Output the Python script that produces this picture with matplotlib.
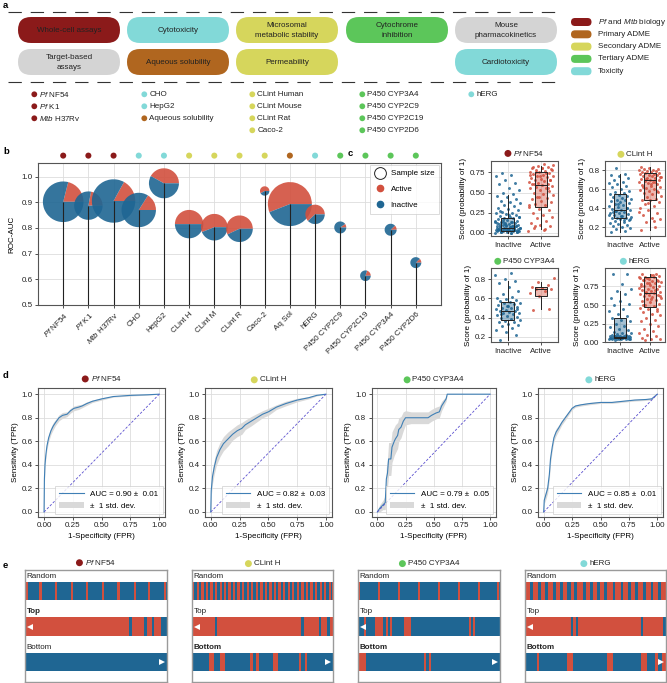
import numpy as np
import matplotlib
matplotlib.use('Agg')
import matplotlib.pyplot as plt
from matplotlib.patches import FancyBboxPatch, Wedge, Circle, Patch
from matplotlib.lines import Line2D
from matplotlib.transforms import ScaledTranslation
from matplotlib.offsetbox import AnchoredOffsetbox, HPacker, TextArea, DrawingArea
from matplotlib.colors import to_rgba

FS = 5.8
plt.rcParams.update({
    'font.family': ['Liberation Sans', 'DejaVu Sans'],
    'font.size': FS,
    'mathtext.fontset': 'custom',
    'mathtext.rm': 'Liberation Sans',
    'mathtext.it': 'Liberation Sans:italic',
    'mathtext.bf': 'Liberation Sans:bold',
    'axes.linewidth': 0.8,
    'axes.edgecolor': '#555555',
    'xtick.labelsize': FS, 'ytick.labelsize': FS,
    'xtick.major.size': 2, 'ytick.major.size': 2,
    'xtick.major.width': 0.6, 'ytick.major.width': 0.6,
    'xtick.major.pad': 2, 'ytick.major.pad': 2,
    'axes.labelsize': FS,
})

# ---------------- colours ----------------
C_BIO = '#8b1a1a'; C_PRI = '#b0661f'; C_SEC = '#d6d65c'
C_TER = '#5cc65a'; C_TOX = '#82d9d8'; C_GRAY = '#d4d4d4'
RED = '#d2503e'; BLUE = '#1f6693'; ROC_BLUE = '#3f7fb5'

# ---------------- panel a data ----------------
pill_row1 = ["Whole-cell assays", "Cytotoxicity", "Microsomal\nmetabolic stability",
             "Cytochrome\ninhibition", "Mouse\npharmacokinetics"]
pill_row1_col = [C_BIO, C_TOX, C_SEC, C_TER, C_GRAY]
pill_row2 = ["Target-based\nassays", "Aqueous solubility", "Permeability", None, "Cardiotoxicity"]
pill_row2_col = [C_GRAY, C_PRI, C_SEC, None, C_TOX]
group_labels = [r"$\it{Pf}$ and $\it{Mtb}$ biology", "Primary ADME", "Secondary ADME",
                "Tertiary ADME", "Toxicity"]
group_colors = [C_BIO, C_PRI, C_SEC, C_TER, C_TOX]
endpoint_cols = [
    [(r"$\it{Pf}$ NF54", C_BIO), (r"$\it{Pf}$ K1", C_BIO), (r"$\it{Mtb}$ H37Rv", C_BIO)],
    [("CHO", C_TOX), ("HepG2", C_TOX), ("Aqueous solubility", C_PRI)],
    [("CLint Human", C_SEC), ("CLint Mouse", C_SEC), ("CLint Rat", C_SEC), ("Caco-2", C_SEC)],
    [("P450 CYP3A4", C_TER), ("P450 CYP2C9", C_TER), ("P450 CYP2C19", C_TER), ("P450 CYP2D6", C_TER)],
    [("hERG", C_TOX)],
]

# ---------------- panel b data ----------------
b_labels = [r"$\it{Pf}$ NF54", r"$\it{Pf}$ K1", r"$\it{Mtb}$ H37Rv", "CHO", "HepG2", "CLint H",
            "CLint M", "CLint R", "Caco-2", "Aq Sol", "hERG", "P450 CYP2C9",
            "P450 CYP2C19", "P450 CYP3A4", "P450 CYP2D6"]
b_colors = [C_BIO, C_BIO, C_BIO, C_TOX, C_TOX, C_SEC, C_SEC, C_SEC, C_SEC, C_PRI, C_TOX,
            C_TER, C_TER, C_TER, C_TER]
b_auc = [0.902, 0.887, 0.905, 0.870, 0.974, 0.815, 0.803, 0.797, 0.944, 0.893, 0.853,
         0.802, 0.614, 0.793, 0.665]
b_size = [4120, 2016, 4709, 2958, 2250, 2016, 1769, 1769, 221, 4840, 941, 360, 281, 360, 302]
b_active_frac = [0.21, 0.22, 0.17, 0.16, 0.42, 0.50, 0.56, 0.57, 0.58, 0.56, 0.62,
                 0.10, 0.20, 0.12, 0.12]

# ---------------- panel c data ----------------
c_titles = [r"$\it{Pf}$ NF54", "CLint H", "P450 CYP3A4", "hERG"]
c_title_colors = [C_BIO, C_SEC, C_TER, C_TOX]
nf54_inactive = [0.00, 0.00, 0.01, 0.01, 0.01, 0.02, 0.02, 0.02, 0.02, 0.03, 0.03, 0.03, 0.03,
                 0.04, 0.04, 0.04, 0.05, 0.05, 0.05, 0.06, 0.06, 0.06, 0.07, 0.07, 0.08, 0.08,
                 0.09, 0.09, 0.10, 0.10, 0.11, 0.11, 0.12, 0.12, 0.13, 0.14, 0.14, 0.15, 0.16,
                 0.17, 0.18, 0.18, 0.19, 0.20, 0.21, 0.22, 0.23, 0.24, 0.25, 0.26, 0.28, 0.30,
                 0.31, 0.33, 0.35, 0.37, 0.38, 0.40, 0.42, 0.44, 0.46, 0.48, 0.50, 0.53, 0.56,
                 0.60, 0.62, 0.66, 0.70, 0.72, 0.74, 0.01, 0.02, 0.03, 0.04, 0.05, 0.06, 0.07,
                 0.08, 0.09, 0.10, 0.12, 0.14, 0.16, 0.02, 0.03, 0.05, 0.07, 0.11, 0.15, 0.00,
                 0.01, 0.02, 0.04, 0.06, 0.08, 0.13, 0.19, 0.22, 0.27]
nf54_active = [0.02, 0.04, 0.06, 0.08, 0.10, 0.12, 0.15, 0.18, 0.20, 0.22, 0.25, 0.28, 0.30,
               0.32, 0.34, 0.36, 0.38, 0.40, 0.42, 0.43, 0.45, 0.47, 0.48, 0.50, 0.52, 0.53,
               0.55, 0.56, 0.57, 0.58, 0.59, 0.60, 0.61, 0.62, 0.63, 0.64, 0.65, 0.66, 0.67,
               0.68, 0.69, 0.70, 0.71, 0.72, 0.73, 0.74, 0.75, 0.76, 0.77, 0.78, 0.79, 0.80,
               0.81, 0.82, 0.83, 0.84, 0.85, 0.60, 0.65, 0.70, 0.72, 0.74, 0.76, 0.78, 0.80,
               0.82, 0.55, 0.45, 0.35, 0.05, 0.09]
clint_inactive = [0.15, 0.16, 0.18, 0.19, 0.20, 0.21, 0.22, 0.23, 0.24, 0.25, 0.26, 0.27, 0.28,
                  0.29, 0.30, 0.30, 0.31, 0.32, 0.33, 0.34, 0.35, 0.35, 0.36, 0.37, 0.38, 0.38,
                  0.39, 0.40, 0.41, 0.42, 0.43, 0.44, 0.45, 0.46, 0.47, 0.48, 0.49, 0.50, 0.51,
                  0.52, 0.53, 0.54, 0.55, 0.56, 0.57, 0.58, 0.60, 0.62, 0.63, 0.65, 0.66, 0.68,
                  0.70, 0.72, 0.74, 0.75, 0.76, 0.82, 0.28, 0.32, 0.36, 0.40, 0.44, 0.33, 0.27,
                  0.37]
clint_active = [0.17, 0.20, 0.25, 0.28, 0.30, 0.33, 0.35, 0.38, 0.40, 0.42, 0.44, 0.46, 0.48,
                0.49, 0.50, 0.52, 0.53, 0.55, 0.56, 0.57, 0.58, 0.59, 0.60, 0.61, 0.62, 0.63,
                0.64, 0.65, 0.66, 0.67, 0.68, 0.69, 0.70, 0.70, 0.71, 0.72, 0.72, 0.73, 0.74,
                0.74, 0.75, 0.75, 0.76, 0.76, 0.77, 0.77, 0.78, 0.78, 0.79, 0.79, 0.80, 0.80,
                0.81, 0.81, 0.82, 0.83, 0.68, 0.71, 0.73, 0.65, 0.62, 0.58, 0.45, 0.36, 0.26]
cyp_inactive = [0.17, 0.22, 0.25, 0.27, 0.29, 0.31, 0.32, 0.33, 0.35, 0.36, 0.37, 0.38, 0.39,
                0.40, 0.41, 0.42, 0.43, 0.44, 0.45, 0.45, 0.46, 0.47, 0.47, 0.48, 0.49, 0.50,
                0.50, 0.51, 0.52, 0.53, 0.54, 0.55, 0.55, 0.56, 0.57, 0.58, 0.59, 0.60, 0.62,
                0.65, 0.68, 0.72, 0.76, 0.78, 0.80, 0.84, 0.86, 0.44, 0.49, 0.52]
cyp_active = [0.48, 0.49, 0.63, 0.66, 0.68, 0.70, 0.70, 0.71, 0.72, 0.74, 0.77, 0.81]
herg_inactive = [0.03, 0.04, 0.04, 0.05, 0.05, 0.05, 0.05, 0.06, 0.06, 0.06, 0.06, 0.06, 0.07,
                 0.07, 0.07, 0.07, 0.07, 0.08, 0.08, 0.08, 0.08, 0.09, 0.09, 0.09, 0.10, 0.10,
                 0.11, 0.12, 0.13, 0.14, 0.16, 0.18, 0.20, 0.22, 0.25, 0.28, 0.30, 0.33, 0.35,
                 0.38, 0.42, 0.45, 0.50, 0.52, 0.55, 0.60, 0.65, 0.69, 0.72, 0.78, 0.92, 0.92,
                 0.05, 0.06, 0.07, 0.08, 0.04, 0.06]
herg_active = [0.03, 0.04, 0.05, 0.06, 0.08, 0.10, 0.12, 0.15, 0.18, 0.22, 0.25, 0.28, 0.30,
               0.33, 0.36, 0.38, 0.40, 0.42, 0.44, 0.46, 0.48, 0.50, 0.52, 0.54, 0.55, 0.57,
               0.58, 0.60, 0.61, 0.62, 0.63, 0.64, 0.65, 0.66, 0.67, 0.68, 0.69, 0.70, 0.71,
               0.72, 0.73, 0.74, 0.75, 0.76, 0.77, 0.78, 0.79, 0.80, 0.81, 0.82, 0.83, 0.84,
               0.85, 0.86, 0.87, 0.88, 0.89, 0.90, 0.91, 0.92, 0.86, 0.88, 0.90, 0.84, 0.82,
               0.79, 0.76, 0.70, 0.66, 0.62, 0.58, 0.50, 0.45]
# box statistics: (whisker low, Q1, median, Q3, whisker high)
nf54_box = [(0.00, 0.02, 0.06, 0.18, 0.47), (0.05, 0.32, 0.59, 0.75, 0.83)]
clint_box = [(0.15, 0.30, 0.38, 0.55, 0.76), (0.17, 0.48, 0.70, 0.77, 0.83)]
cyp_box = [(0.17, 0.38, 0.47, 0.56, 0.78), (0.49, 0.63, 0.70, 0.72, 0.77)]
herg_box = [(0.04, 0.06, 0.07, 0.33, 0.69), (0.03, 0.47, 0.66, 0.87, 0.92)]
c_groups = ["Inactive", "Active"]

# ---------------- panel d data ----------------
nf54_fpr = [0, 0.003, 0.008, 0.015, 0.025, 0.04, 0.06, 0.08, 0.10, 0.13, 0.16, 0.20, 0.23,
            0.26, 0.30, 0.33, 0.37, 0.42, 0.50, 0.60, 0.75, 0.90, 1.0]
nf54_tpr = [0, 0.28, 0.40, 0.48, 0.56, 0.63, 0.69, 0.73, 0.76, 0.80, 0.82, 0.83, 0.86,
            0.88, 0.89, 0.90, 0.92, 0.94, 0.96, 0.98, 0.99, 0.995, 1.0]
nf54_std = [0, 0.04, 0.04, 0.03, 0.03, 0.03, 0.03, 0.03, 0.025, 0.025, 0.025, 0.02, 0.02,
            0.02, 0.02, 0.015, 0.015, 0.01, 0.01, 0.005, 0.005, 0.003, 0]
clint_fpr = [0, 0.004, 0.015, 0.03, 0.05, 0.08, 0.11, 0.15, 0.19, 0.23, 0.27, 0.30, 0.35,
             0.40, 0.45, 0.50, 0.57, 0.65, 0.75, 0.85, 0.92, 1.0]
clint_tpr = [0, 0.18, 0.30, 0.38, 0.46, 0.53, 0.58, 0.62, 0.66, 0.69, 0.71, 0.74, 0.77,
             0.80, 0.83, 0.85, 0.89, 0.92, 0.95, 0.97, 0.99, 1.0]
clint_std = [0, 0.05, 0.06, 0.06, 0.06, 0.06, 0.06, 0.06, 0.05, 0.05, 0.05, 0.04, 0.04,
             0.035, 0.03, 0.03, 0.02, 0.02, 0.015, 0.01, 0.005, 0]
cyp_fpr = [0, 0.02, 0.05, 0.07, 0.08, 0.09, 0.10, 0.12, 0.13, 0.15, 0.16, 0.18, 0.19, 0.21,
           0.23, 0.25, 0.30, 0.45, 0.48, 0.52, 0.55, 0.57, 0.59, 0.61, 0.62, 0.80, 1.0]
cyp_tpr = [0, 0.03, 0.06, 0.08, 0.28, 0.33, 0.45, 0.45, 0.55, 0.60, 0.62, 0.65, 0.70, 0.72,
           0.77, 0.80, 0.80, 0.80, 0.82, 0.84, 0.85, 0.90, 0.93, 0.96, 1.0, 1.0, 1.0]
cyp_std = [0, 0.03, 0.04, 0.06, 0.10, 0.12, 0.14, 0.14, 0.13, 0.12, 0.12, 0.11, 0.10, 0.09,
           0.08, 0.06, 0.05, 0.05, 0.05, 0.05, 0.05, 0.04, 0.03, 0.02, 0, 0, 0]
herg_fpr = [0, 0.005, 0.02, 0.035, 0.05, 0.06, 0.075, 0.09, 0.11, 0.13, 0.16, 0.19, 0.22,
            0.25, 0.28, 0.33, 0.40, 0.50, 0.60, 0.70, 0.80, 0.90, 0.95, 1.0]
herg_tpr = [0, 0.10, 0.15, 0.20, 0.32, 0.45, 0.55, 0.63, 0.68, 0.71, 0.76, 0.80, 0.84,
            0.88, 0.90, 0.91, 0.92, 0.93, 0.93, 0.94, 0.95, 0.955, 0.96, 1.0]
herg_std = [0, 0.03, 0.04, 0.04, 0.04, 0.04, 0.03, 0.03, 0.03, 0.025, 0.02, 0.02, 0.015,
            0.012, 0.01, 0.01, 0.01, 0.008, 0.008, 0.008, 0.008, 0.008, 0.008, 0]
d_auc_labels = ["AUC = 0.90 \u00b1  0.01", "AUC = 0.82 \u00b1  0.03",
                "AUC = 0.79 \u00b1  0.05", "AUC = 0.85 \u00b1  0.01"]

# ---------------- panel e data ----------------
# each strip: (background class, [(start, width) of other class])
nf54_random = ('inactive', [(0.007, 0.017), (0.100, 0.017), (0.212, 0.016), (0.322, 0.015),
                            (0.431, 0.015), (0.541, 0.016), (0.652, 0.015), (0.769, 0.015),
                            (0.871, 0.014), (0.981, 0.015)])
nf54_top = ('active', [(0.736, 0.016), (0.840, 0.019), (0.894, 0.014), (0.958, 0.042)])
nf54_bottom = ('inactive', [])
clint_random = ('inactive', [(0.000, 0.014), (0.035, 0.016), (0.066, 0.016), (0.097, 0.016),
                             (0.130, 0.016), (0.161, 0.016), (0.196, 0.016), (0.227, 0.016),
                             (0.258, 0.016), (0.291, 0.016), (0.322, 0.016), (0.355, 0.016),
                             (0.388, 0.016), (0.418, 0.016), (0.452, 0.016), (0.485, 0.016),
                             (0.515, 0.016), (0.548, 0.016), (0.579, 0.016), (0.612, 0.016),
                             (0.645, 0.016), (0.678, 0.016), (0.709, 0.016), (0.742, 0.016),
                             (0.775, 0.016), (0.806, 0.016), (0.839, 0.016), (0.872, 0.016),
                             (0.905, 0.016), (0.936, 0.016), (0.969, 0.016), (0.990, 0.010)])
clint_top = ('active', [(0.161, 0.016), (0.775, 0.019), (0.898, 0.019), (0.960, 0.016)])
clint_bottom = ('inactive', [(0.118, 0.038), (0.196, 0.040), (0.414, 0.019), (0.456, 0.017),
                             (0.574, 0.036), (0.757, 0.018), (0.799, 0.017)])
cyp_random = ('inactive', [(0.000, 0.013), (0.141, 0.013), (0.282, 0.014), (0.424, 0.013),
                           (0.565, 0.013), (0.706, 0.013), (0.842, 0.014), (0.981, 0.014)])
cyp_top = ('inactive', [(0.042, 0.017), (0.122, 0.054), (0.195, 0.014), (0.224, 0.014),
                        (0.322, 0.054), (0.781, 0.014), (0.812, 0.014)])
cyp_bottom = ('inactive', [(0.000, 0.059), (0.464, 0.014), (0.501, 0.014)])
herg_random = ('active', [(0.035, 0.024), (0.095, 0.021), (0.142, 0.024), (0.196, 0.021),
                          (0.248, 0.024), (0.300, 0.024), (0.350, 0.017), (0.409, 0.021),
                          (0.461, 0.019), (0.508, 0.024), (0.563, 0.021), (0.622, 0.019),
                          (0.678, 0.019), (0.728, 0.024), (0.780, 0.024), (0.839, 0.019),
                          (0.891, 0.019), (0.946, 0.017)])
herg_top = ('active', [(0.324, 0.019), (0.359, 0.019), (0.820, 0.019), (0.981, 0.019)])
herg_bottom = ('inactive', [(0.083, 0.019), (0.300, 0.043), (0.579, 0.043), (0.820, 0.043),
                            (0.922, 0.024), (0.970, 0.030)])
e_strip_names = ["Random", "Top", "Bottom"]
e_bold = ["Top", "Bottom", "Bottom", "Bottom"]

# ======================================================================
W, H = 667, 683
fig = plt.figure(figsize=(W / 100, H / 100), dpi=100)


def fa(x0, y0, x1, y1):
    return fig.add_axes([x0 / W, 1 - y1 / H, (x1 - x0) / W, (y1 - y0) / H])


def dot_title(ax, text, color, pad_pt):
    da = DrawingArea(5.2, 5.2, 0, 0)
    da.add_artist(Circle((2.6, 2.6), 2.5, fc=color, ec='none'))
    ta = TextArea(text, textprops=dict(size=FS, color='#222222'))
    box = HPacker(children=[da, ta], align='center', pad=0, sep=1.2)
    ab = AnchoredOffsetbox(loc='lower center', child=box, bbox_to_anchor=(0.5, 1.0),
                           bbox_transform=ax.transAxes, frameon=False, pad=0,
                           borderpad=pad_pt / FS)
    ax.add_artist(ab)


def style_axes(ax):
    for s in ax.spines.values():
        s.set_color('#555555')
        s.set_linewidth(0.8)
    ax.grid(True, color='#dddddd', lw=0.6)
    ax.set_axisbelow(True)
    ax.tick_params(colors='#333333', labelcolor='#222222')


# ---------------- panel a ----------------
axa = fig.add_axes([0, 0, 1, 1])
axa.set_xlim(0, W); axa.set_ylim(H, 0); axa.axis('off')
pill_x = [18, 127, 236, 346, 455]
for row_y, labels, cols in [(17, pill_row1, pill_row1_col), (49, pill_row2, pill_row2_col)]:
    for px, lab, col in zip(pill_x, labels, cols):
        if lab is None:
            continue
        axa.add_patch(FancyBboxPatch((px, row_y), 102, 26,
                                     boxstyle="round,pad=0,rounding_size=13",
                                     fc=col, ec='none'))
        axa.text(px + 51, row_y + 13.5, lab, ha='center', va='center', fontsize=FS,
                 color='#222222', linespacing=1.45)
for yy in (11.7, 81.7):
    axa.plot([8, 563], [yy, yy], color='#333333', lw=0.8, dashes=(12, 8))
for k, (lab, col) in enumerate(zip(group_labels, group_colors)):
    yc = 22 + 12.3 * k
    axa.add_patch(FancyBboxPatch((571, yc - 4), 20.5, 8,
                                 boxstyle="round,pad=0,rounding_size=4", fc=col, ec='none'))
    axa.text(597.5, yc, lab, va='center', fontsize=FS, color='#222222')
col_x = [34.3, 144.3, 252.3, 362.3, 471.3]
for cx, items in zip(col_x, endpoint_cols):
    for r, (lab, col) in enumerate(items):
        yc = 94.3 + 12 * r
        axa.add_patch(Circle((cx, yc), 2.9, fc=col, ec='none'))
        axa.text(cx + 5, yc, lab, va='center', fontsize=FS, color='#222222')

# panel letters
for lab, x, y in [('a', 3, 5), ('b', 3, 152), ('c', 348, 154), ('d', 3, 376), ('e', 3, 565)]:
    fig.text(x / W, 1 - y / H, lab, fontsize=6.8, fontweight='bold', va='center', ha='left')

# ---------------- panel b ----------------
axb = fa(38, 163, 441, 305)
style_axes(axb)
xb = np.arange(len(b_labels))
for i, (v, n, f) in enumerate(zip(b_auc, b_size, b_active_frac)):
    r_in = np.sqrt(n / 10.0) / fig.dpi
    tr = fig.dpi_scale_trans + ScaledTranslation(xb[i], v, axb.transData)
    axb.add_patch(Wedge((0, 0), r_in, 0, 360 * f, fc=RED, ec='none', alpha=0.9,
                        transform=tr, zorder=2))
    axb.add_patch(Wedge((0, 0), r_in, 360 * f, 360, fc=BLUE, ec='none', alpha=0.9,
                        transform=tr, zorder=2))
axb.vlines(xb, 0.5, b_auc, color='#222222', lw=0.8, zorder=3)
axb.scatter(xb, np.full(len(xb), 1.052), s=19, c=b_colors, clip_on=False, zorder=4,
            transform=axb.get_xaxis_transform(), linewidths=0)
axb.set_xlim(-1, len(b_labels))
axb.set_ylim(0.5, 1.053)
axb.set_yticks(np.round(np.arange(0.5, 1.01, 0.1), 1))
axb.set_xticks(xb)
axb.set_xticklabels(b_labels, rotation=45, ha='right', rotation_mode='anchor')
axb.set_ylabel('ROC-AUC', labelpad=4)
leg_h = [Line2D([], [], marker='o', ls='', mfc='none', mec='#222222', ms=8.5, mew=0.7),
         Line2D([], [], marker='o', ls='', color=RED, ms=4.5),
         Line2D([], [], marker='o', ls='', color=BLUE, ms=4.5)]
lg = axb.legend(leg_h, ['Sample size', 'Active', 'Inactive'], loc='upper right',
                fontsize=FS, frameon=True, fancybox=False, borderaxespad=0.25,
                labelspacing=1.0, handletextpad=0.5, borderpad=0.6, handlelength=1.5)
lg.get_frame().set_edgecolor('#cccccc'); lg.get_frame().set_linewidth(0.6)

# ---------------- panel c ----------------
c_pos = [(491, 160.7, 557.7, 236), (605, 160.7, 665, 236),
         (491, 267.7, 557.7, 342.3), (605, 267.7, 665, 342.3)]
c_data = [(nf54_inactive, nf54_active, nf54_box), (clint_inactive, clint_active, clint_box),
          (cyp_inactive, cyp_active, cyp_box), (herg_inactive, herg_active, herg_box)]
c_ylim = [(-0.04, 0.895), (0.105, 0.90), (0.144, 0.92), (0.0, 1.0)]
c_yticks = [[0, 0.25, 0.5, 0.75], [0.2, 0.4, 0.6, 0.8], [0.2, 0.4, 0.6, 0.8], [0, 0.25, 0.5, 0.75]]
c_fmt = ['{:.2f}', '{:.1f}', '{:.1f}', '{:.2f}']
for k in range(4):
    ax = fa(*c_pos[k])
    style_axes(ax)
    ina, act, bstats = c_data[k]
    for g, (vals, col) in enumerate([(ina, BLUE), (act, RED)]):
        n = len(vals)
        jit = ((np.arange(n) * 0.618034 + 0.1 * k) % 1 - 0.5) * 0.76
        ax.scatter(g + jit, vals, s=4.5, color=col, alpha=0.85, linewidths=0, zorder=2)
    st = [dict(whislo=s[0], q1=s[1], med=s[2], q3=s[3], whishi=s[4], fliers=[]) for s in bstats]
    bp = ax.bxp(st, positions=[0, 1], widths=0.38, patch_artist=True, showfliers=False,
                showcaps=False,
                boxprops=dict(lw=0.7, edgecolor='#222222'),
                whiskerprops=dict(lw=0.7, color='#222222'),
                medianprops=dict(lw=0.7, color='#222222'))
    for patch, col in zip(bp['boxes'], [BLUE, RED]):
        patch.set_facecolor(to_rgba(col, 0.4)); patch.set_zorder(3)
    for ln in bp['whiskers'] + bp['medians']:
        ln.set_zorder(3)
    ax.set_xlim(-0.5, 1.5)
    ax.set_ylim(*c_ylim[k])
    ax.set_yticks(c_yticks[k])
    ax.set_yticklabels([c_fmt[k].format(t) for t in c_yticks[k]])
    ax.set_xticks([0, 1]); ax.set_xticklabels(c_groups)
    ax.set_ylabel('Score (probability of 1)', labelpad=2)
    dot_title(ax, c_titles[k], c_title_colors[k], 2.0)

# ---------------- panel d ----------------
d_pos = [(38.3, 388.3, 165, 516.7), (205, 388.3, 331.7, 516.7),
         (371.7, 388.3, 495.7, 516.7), (538, 388.3, 663, 516.7)]
d_curves = [(nf54_fpr, nf54_tpr, nf54_std), (clint_fpr, clint_tpr, clint_std),
            (cyp_fpr, cyp_tpr, cyp_std), (herg_fpr, herg_tpr, herg_std)]
for k in range(4):
    ax = fa(*d_pos[k])
    style_axes(ax)
    fpr, tpr, sd = [np.array(a) for a in d_curves[k]]
    ax.fill_between(fpr, np.clip(tpr - sd, 0, 1), np.clip(tpr + sd, 0, 1),
                    color='#d9d9d9', lw=0, zorder=2)
    ax.plot(fpr, tpr, color=ROC_BLUE, lw=0.8, zorder=3)
    ax.plot([0, 1], [0, 1], ls='--', color='#5a4fcf', lw=0.6, dashes=(3, 2), zorder=3)
    ax.set_xlim(-0.05, 1.05); ax.set_ylim(-0.04, 1.05)
    ax.set_xticks([0, 0.25, 0.5, 0.75, 1.0])
    ax.set_xticklabels(['0.00', '0.25', '0.50', '0.75', '1.00'])
    ax.set_yticks([0, 0.2, 0.4, 0.6, 0.8, 1.0])
    ax.set_xlabel('1-Specificity (FPR)', labelpad=3)
    ax.set_ylabel('Sensitivity (TPR)', labelpad=2)
    hd = [Line2D([], [], color=ROC_BLUE, lw=0.8), Patch(fc='#d9d9d9', ec='none')]
    lg = ax.legend(hd, [d_auc_labels[k], '\u00b1  1 std. dev.'], loc='lower right',
                   fontsize=FS, frameon=True, fancybox=False, handlelength=3.0,
                   borderaxespad=0.3, labelspacing=0.55, borderpad=0.55)
    lg.get_frame().set_edgecolor('#cccccc'); lg.get_frame().set_linewidth(0.6)
    dot_title(ax, c_titles[k], c_title_colors[k], 3.5)

# ---------------- panel e ----------------
e_pos = [(25, 570, 166.7, 681.7), (192, 570, 333, 681.7),
         (358, 570, 500, 681.7), (525, 570, 666, 681.7)]
e_strips = [(nf54_random, nf54_top, nf54_bottom), (clint_random, clint_top, clint_bottom),
            (cyp_random, cyp_top, cyp_bottom), (herg_random, herg_top, herg_bottom)]
strip_y = [0.731, 0.412, 0.096]
strip_h = 0.164
label_y = [0.946, 0.627, 0.308]
cls_col = {'inactive': BLUE, 'active': RED}
for k in range(4):
    ax = fa(*e_pos[k])
    ax.set_xlim(0, 1); ax.set_ylim(0, 1)
    ax.set_xticks([]); ax.set_yticks([])
    for s in ax.spines.values():
        s.set_color('#9a9a9a'); s.set_linewidth(1.0)
    for j, (bg, segs) in enumerate(e_strips[k]):
        other = 'active' if bg == 'inactive' else 'inactive'
        ax.broken_barh([(0, 1)], (strip_y[j], strip_h), color=cls_col[bg], lw=0)
        if segs:
            ax.broken_barh(segs, (strip_y[j], strip_h), color=cls_col[other], lw=0)
        name = e_strip_names[j]
        ax.text(0.012, label_y[j], name, va='center', ha='left', fontsize=FS,
                fontweight='bold' if name == e_bold[k] else 'normal', color='#222222')
    ax.plot([0.035], [strip_y[1] + strip_h / 2], marker='<', color='white', ms=4.5, mew=0)
    ax.plot([0.965], [strip_y[2] + strip_h / 2], marker='>', color='white', ms=4.5, mew=0)
    dot_title(ax, c_titles[k], c_title_colors[k], 2.0)

fig.savefig('out.png', dpi=100)
